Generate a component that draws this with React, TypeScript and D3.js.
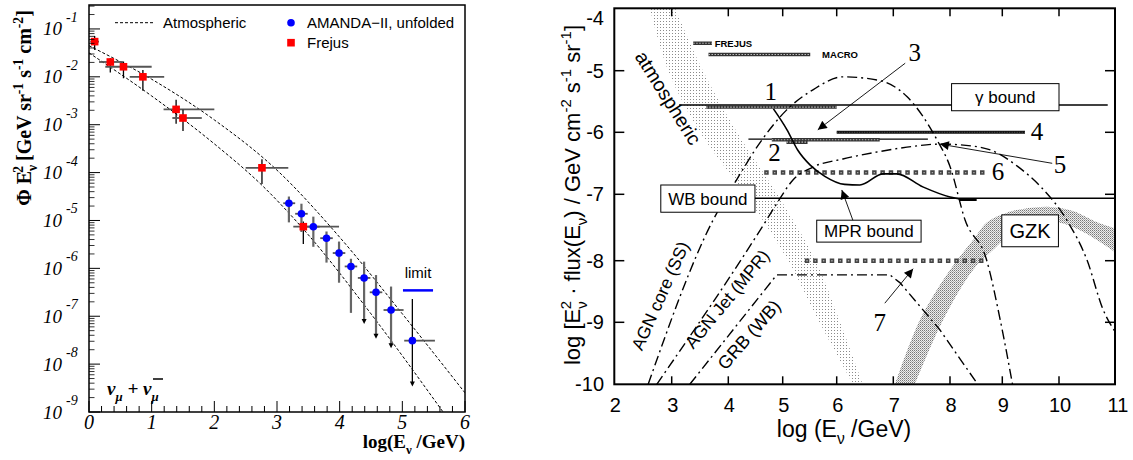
import React from 'react';
import * as d3 from 'd3';

// ================= LEFT PANEL DATA (log10 values) =================
const frejusLogE = [0.09, 0.34, 0.55, 0.86, 1.39, 1.5, 2.76, 3.42];
const frejusLogF = [-1.265, -1.69, -1.79, -2.0, -2.68, -2.86, -3.9, -5.13];
const frejusELo = [0.02, 0.16, 0.26, 0.65, 1.19, 1.33, 2.5, 3.26];
const frejusEHi = [0.16, 0.54, 1.0, 1.2, 2.0, 1.8, 3.18, 3.99];
const frejusFLo = [-1.438, -1.91, -2.03, -2.29, -2.98, -3.13, -4.24, -5.49];
const frejusFHi = [-1.146, -1.61, -1.68, -1.86, -2.48, -2.69, -3.72, -5.02];

const amandaLogE = [3.19, 3.39, 3.58, 3.79, 3.99, 4.18, 4.39, 4.58, 4.82, 5.16];
const amandaLogF = [-4.64, -4.86, -5.13, -5.37, -5.68, -5.96, -6.2, -6.5, -6.87, -7.51];
const amandaELo = [3.1, 3.29, 3.48, 3.69, 3.89, 4.08, 4.29, 4.48, 4.7, 5.03];
const amandaEHi = [3.29, 3.49, 3.68, 3.89, 4.09, 4.28, 4.49, 4.68, 5.02, 5.52];
const amandaFLo = [-5.04, -5.24, -5.55, -5.88, -6.3, -6.93, -7.16, -7.47, -7.67, -8.47];
const amandaFHi = [-4.5, -4.65, -4.92, -5.23, -5.44, -5.8, -5.86, -6.14, -6.38, -6.64];
const amandaIsLimit = [false, false, false, false, false, false, true, true, true, true];

const limitE = [5.01, 5.49];
const limitF = -6.46;

const atmUpperE = [0, 1, 2, 3, 4, 5, 6];
const atmUpperF = [-1.35, -2.05, -2.9, -3.95, -5.35, -6.95, -8.6];
const atmLowerE = [0, 1, 2, 2.78, 3.5, 4.5, 5.65];
const atmLowerF = [-1.5, -2.4, -3.4, -4.29, -5.3, -6.95, -9.0];

const leftXTicks = [0, 1, 2, 3, 4, 5, 6];
const leftYDecades = [-9, -8, -7, -6, -5, -4, -3, -2, -1];

// ================= RIGHT PANEL DATA =================
const rightXTicks = [2, 3, 4, 5, 6, 7, 8, 9, 10, 11];
const rightYTicks = [-10, -9, -8, -7, -6, -5, -4];

const atmBandY = [-4, -5, -6, -7, -8, -9, -10];
const atmBandLeftX = [2.62, 2.94, 3.5, 4.31, 5.1, 5.68, 6.29];
const atmBandRightX = [3.06, 3.55, 4.16, 4.9, 5.61, 6.06, 6.46];

const gzkTopX = [7.03, 7.47, 8.0, 8.44, 8.71, 9.07, 9.37, 9.84, 10.25, 10.68, 11.0];
const gzkTopY = [-10, -8.96, -8.15, -7.69, -7.42, -7.28, -7.22, -7.19, -7.25, -7.42, -7.51];
const gzkBotX = [7.38, 7.88, 8.44, 8.86, 9.17, 9.58, 10.02, 10.46, 11.0];
const gzkBotY = [-10, -8.96, -8.15, -7.81, -7.58, -7.43, -7.43, -7.58, -7.87];

const agnCoreX = [2.59, 3.73, 4.15, 4.58, 5.07, 5.56, 6.11, 6.71, 7.24, 7.77, 8.0, 8.29, 8.7, 8.96, 9.18];
const agnCoreY = [-10, -7.39, -6.77, -6.17, -5.64, -5.31, -5.1, -5.15, -5.42, -6.12, -6.55, -7.39, -7.99, -8.96, -10];

const agnJetX = [2.74, 4.7, 4.89, 5.19, 5.56, 6.11, 6.64, 7.24, 7.82, 8.41, 8.82, 9.27, 9.68, 10.14, 10.5, 10.79, 11.0];
const agnJetY = [-10, -7.39, -7.14, -6.77, -6.56, -6.43, -6.33, -6.24, -6.19, -6.22, -6.3, -6.55, -6.88, -7.39, -7.99, -8.8, -9.15];

const grbX = [3.32, 4.89, 6.94, 7.12, 7.82, 8.53];
const grbY = [-10, -8.23, -8.23, -8.36, -9.12, -10];

const limit3X = [4.83, 5.08, 5.28, 5.51, 5.78, 6.14, 6.41, 6.82, 7.06, 7.52, 8.0, 8.27];
const limit3Y = [-5.62, -5.96, -6.29, -6.53, -6.71, -6.84, -6.85, -6.67, -6.67, -6.88, -7.04, -7.08];

const gammaBoundY = -5.557;
const gammaBoundX = [3.13, 10.87];
const wbBoundY = -7.06;
const wbBoundX = [4.0, 11.0];

const frejusBarX = [3.38, 3.71];
const frejusBarY = -4.56;
const macroBarX = [3.65, 5.51];
const macroBarY = -4.74;
const bar1X = [3.61, 6.0];
const bar1Y = -5.59;
const line2X = [4.37, 7.61];
const line2Y = -6.11;
const bar2X = [4.8, 6.76];
const bar2Y = -6.12;
const bar2bX = [5.07, 5.46];
const bar2bY = -6.16;
const bar4X = [6.0, 9.4];
const bar4Y = -6.0;
const sq6X = [4.66, 8.67];
const sq6Y = -6.65;
const sq7X = [5.41, 8.64];
const sq7Y = -8.0;
const ehe3BarX = [8.18, 8.51];

const SANS = "'Liberation Sans', Arial, Helvetica, sans-serif";
const SERIF = "'Liberation Serif', 'Times New Roman', serif";

type Seg = { t: string; k?: 'sup' | 'sub'; dx?: number };
function rich(segs: Seg[], size: number) {
  let cur = 0;
  return segs.map((s, i) => {
    const target = s.k === 'sup' ? -0.42 * size : s.k === 'sub' ? 0.3 * size : 0;
    const dy = target - cur;
    cur = target;
    return (
      <tspan key={i} dy={dy} dx={s.dx ?? 0} fontSize={s.k ? size * 0.68 : size}>
        {s.t}
      </tspan>
    );
  });
}

function LeftPanel() {
  const lx = d3.scaleLinear().domain([0, 6]).range([89, 465]);
  const ly = d3.scaleLog().domain([1e-9, Math.pow(10, -0.5)]).range([412, 5]);
  const Y = (v: number) => ly(Math.pow(10, v));
  const line = d3
    .line<[number, number]>()
    .x((d) => lx(d[0]))
    .y((d) => Y(d[1]))
    .curve(d3.curveMonotoneX);
  const up = line(atmUpperE.map((e, i) => [e, atmUpperF[i]] as [number, number]))!;
  const lo = line(atmLowerE.map((e, i) => [e, atmLowerF[i]] as [number, number]))!;

  const minorX = d3.range(0, 6.001, 0.2).filter((v) => Math.abs(v - Math.round(v)) > 0.01);
  const minorY: number[] = [];
  leftYDecades.forEach((k) => {
    for (let m = 2; m <= 9; m++) {
      const v = m * Math.pow(10, k);
      if (v <= Math.pow(10, -0.5)) minorY.push(v);
    }
  });

  return (
    <g>
      <defs>
        <clipPath id="lclip">
          <rect x={89} y={5} width={376} height={407} />
        </clipPath>
      </defs>
      <g clipPath="url(#lclip)">
        <path d={up} fill="none" stroke="#000" strokeWidth={1} strokeDasharray="3,2" />
        <path d={lo} fill="none" stroke="#000" strokeWidth={1} strokeDasharray="3,2" />
      </g>
      {frejusLogE.map((e, i) => (
        <g key={'fe' + i}>
          <line x1={lx(frejusELo[i])} x2={lx(frejusEHi[i])} y1={Y(frejusLogF[i])} y2={Y(frejusLogF[i])} stroke="#555" strokeWidth={1.8} />
          <line x1={lx(e)} x2={lx(e)} y1={Y(frejusFLo[i])} y2={Y(frejusFHi[i])} stroke="#000" strokeWidth={1.3} />
        </g>
      ))}
      {amandaLogE.map((e, i) => (
        <g key={'ae' + i}>
          <line x1={lx(amandaELo[i])} x2={lx(amandaEHi[i])} y1={Y(amandaLogF[i])} y2={Y(amandaLogF[i])} stroke="#555" strokeWidth={1.8} />
          <line
            x1={lx(e)}
            x2={lx(e)}
            y1={Y(amandaFHi[i])}
            y2={Y(amandaFLo[i]) - (amandaIsLimit[i] ? 4 : 0)}
            stroke={i === amandaLogE.length - 1 ? '#000' : '#666'}
            strokeWidth={i === amandaLogE.length - 1 ? 1.3 : 2.2}
          />
          {amandaIsLimit[i] && (
            <path d={`M${lx(e) - 2.5},${Y(amandaFLo[i]) - 5} L${lx(e) + 2.5},${Y(amandaFLo[i]) - 5} L${lx(e)},${Y(amandaFLo[i])} z`} fill="#000" />
          )}
        </g>
      ))}
      {amandaLogE.map((e, i) => (
        <circle key={'am' + i} cx={lx(e)} cy={Y(amandaLogF[i])} r={3.8} fill="#0000ff" />
      ))}
      {frejusLogE.map((e, i) => (
        <rect key={'fm' + i} x={lx(e) - 3.8} y={Y(frejusLogF[i]) - 3.8} width={7.6} height={7.6} fill="#ff0000" />
      ))}
      <line x1={lx(limitE[0])} x2={lx(limitE[1])} y1={Y(limitF)} y2={Y(limitF)} stroke="#0000ff" strokeWidth={2.5} />
      <text x={lx((limitE[0] + limitE[1]) / 2)} y={Y(limitF) - 12} fontFamily={SANS} fontSize={15} textAnchor="middle">
        limit
      </text>

      <rect x={89} y={5} width={376} height={407} fill="none" stroke="#000" strokeWidth={1.5} />
      {leftXTicks.map((v) => (
        <line key={'xt' + v} x1={lx(v)} x2={lx(v)} y1={412} y2={401} stroke="#000" strokeWidth={1} />
      ))}
      {minorX.map((v) => (
        <line key={'xm' + v} x1={lx(v)} x2={lx(v)} y1={412} y2={406} stroke="#000" strokeWidth={1} />
      ))}
      {leftYDecades.map((k) => (
        <line key={'yt' + k} x1={89} x2={100} y1={Y(k)} y2={Y(k)} stroke="#000" strokeWidth={1} />
      ))}
      {minorY.map((v, i) => (
        <line key={'ym' + i} x1={89} x2={94.5} y1={ly(v)} y2={ly(v)} stroke="#000" strokeWidth={0.8} />
      ))}
      {leftXTicks.map((v) => (
        <text key={'xl' + v} x={lx(v)} y={429} fontFamily={SERIF} fontStyle="italic" fontSize={20} textAnchor="middle">
          {v}
        </text>
      ))}
      {leftYDecades.map((k) => (
        <g key={'yl' + k}>
          <text x={62} y={Y(k) + 6.5} fontFamily={SERIF} fontStyle="italic" fontSize={19} textAnchor="end">
            10
          </text>
          <text x={66} y={Y(k) - 7} fontFamily={SERIF} fontStyle="italic" fontSize={14}>
            {k}
          </text>
        </g>
      ))}
      <text x={465} y={448} fontFamily={SERIF} fontWeight="bold" fontSize={19} textAnchor="end" style={{ whiteSpace: 'pre' }}>
        {rich([{ t: 'log(E' }, { t: 'ν', k: 'sub' }, { t: ' /GeV)' }], 19)}
      </text>
      <text transform="translate(31,108) rotate(-90)" fontFamily={SERIF} fontWeight="bold" fontSize={20} textAnchor="middle" style={{ whiteSpace: 'pre' }}>
        {rich(
          [
            { t: 'Φ E' },
            { t: 'ν', k: 'sub' },
            { t: '2', k: 'sup', dx: -8 },
            { t: ' [GeV sr' },
            { t: '-1', k: 'sup' },
            { t: ' s' },
            { t: '-1', k: 'sup' },
            { t: ' cm' },
            { t: '-2', k: 'sup' },
            { t: ']' },
          ],
          20
        )}
      </text>
      <line x1={115} x2={153} y1={22.7} y2={22.7} stroke="#000" strokeWidth={1} strokeDasharray="3,2" />
      <text x={163} y={28} fontFamily={SANS} fontSize={15}>
        Atmospheric
      </text>
      <circle cx={291} cy={22.7} r={3.8} fill="#0000ff" />
      <text x={307} y={28} fontFamily={SANS} fontSize={15}>
        AMANDA−II, unfolded
      </text>
      <rect x={287.2} y={38.9} width={7.6} height={7.6} fill="#ff0000" />
      <text x={307} y={48} fontFamily={SANS} fontSize={15}>
        Frejus
      </text>
      <text x={107} y={395} fontFamily={SERIF} fontStyle="italic" fontWeight="bold" fontSize={19} style={{ whiteSpace: 'pre' }}>
        {rich([{ t: 'ν' }, { t: 'μ', k: 'sub' }, { t: ' + ν' }, { t: 'μ', k: 'sub' }], 19)}
      </text>
      <line x1={153} x2={163} y1={379} y2={379} stroke="#000" strokeWidth={1.5} />
    </g>
  );
}

function RightPanel() {
  const rx = d3.scaleLinear().domain(rightXTicks).range([614.3, 671.7, 728.3, 782.7, 836.7, 893.3, 950, 1002.3, 1059, 1115]);
  const ry = d3.scaleLinear().domain(rightYTicks).range([384.3, 322.3, 260.7, 194.3, 132.3, 70.7, 8.3]);
  const X0 = rx(2), X1 = rx(11), Y0 = ry(-4), Y1 = ry(-10);

  const lineMono = d3
    .line<[number, number]>()
    .x((d) => rx(d[0]))
    .y((d) => ry(d[1]))
    .curve(d3.curveMonotoneX);
  const lineCR = d3
    .line<[number, number]>()
    .x((d) => rx(d[0]))
    .y((d) => ry(d[1]))
    .curve(d3.curveCatmullRom);
  const lineLin = d3
    .line<[number, number]>()
    .x((d) => rx(d[0]))
    .y((d) => ry(d[1]));

  const zip = (xs: number[], ys: number[]) => xs.map((x, i) => [x, ys[i]] as [number, number]);

  const band = (a: [number, number][], b: [number, number][], gen: d3.Line<[number, number]>) => {
    const p1 = gen(a)!;
    const p2 = gen(b.slice().reverse())!;
    return p1 + 'L' + p2.slice(1) + 'Z';
  };
  const atmPath = band(zip(atmBandLeftX, atmBandY), zip(atmBandRightX, atmBandY), lineCR);
  const gzkPath = band(zip(gzkTopX, gzkTopY), zip(gzkBotX, gzkBotY), lineCR);

  const dashDot = '10,4,2,4';
  const hline = (xs: number[], y: number) => ({ x1: rx(xs[0]), x2: rx(xs[1]), y1: ry(y), y2: ry(y) });

  const arrow = (x1: number, y1: number, x2: number, y2: number, key: string) => (
    <line key={key} x1={rx(x1)} y1={ry(y1)} x2={rx(x2)} y2={ry(y2)} stroke="#000" strokeWidth={0.9} markerEnd="url(#rarr)" />
  );

  const box = (xa: number, xb: number, ya: number, yb: number, label: string, size: number, key: string) => {
    const x = rx(xa), w = rx(xb) - rx(xa), y = ry(ya), h = ry(yb) - ry(ya);
    return (
      <g key={key}>
        <rect x={x} y={y} width={w} height={h} fill="#fff" stroke="#000" strokeWidth={1} />
        <text x={x + w / 2} y={y + h / 2 + size * 0.36} fontFamily={SANS} fontSize={size} textAnchor="middle">
          {label}
        </text>
      </g>
    );
  };

  const num = (t: string, x: number, y: number) => (
    <text key={'n' + t} x={rx(x)} y={ry(y) + 8} fontFamily={SERIF} fontSize={25} textAnchor="middle">
      {t}
    </text>
  );

  const rotLabel = (t: string, x: number, y: number, ang: number, size: number) => (
    <text key={t} transform={`translate(${rx(x)},${ry(y)}) rotate(${ang})`} fontFamily={SANS} fontSize={size} textAnchor="middle" dy={size * 0.35}>
      {t}
    </text>
  );

  return (
    <g>
      <defs>
        <clipPath id="rclip">
          <rect x={X0} y={Y0} width={X1 - X0} height={Y1 - Y0} />
        </clipPath>
        <pattern id="atmPat" width={3} height={3} patternUnits="userSpaceOnUse">
          <rect x={0} y={0} width={1} height={1} fill="#8a8a8a" />
        </pattern>
        <pattern id="gzkPat" width={2} height={2} patternUnits="userSpaceOnUse">
          <rect x={0} y={0} width={2} height={2} fill="#eeeeee" />
          <rect x={0} y={0} width={1} height={1} fill="#777" />
          <rect x={1} y={1} width={1} height={1} fill="#aaa" />
        </pattern>
        <marker id="rarr" viewBox="0 0 10 10" refX={10} refY={5} markerWidth={11} markerHeight={9} orient="auto" markerUnits="userSpaceOnUse">
          <path d="M0,0 L10,5 L0,10 z" fill="#000" />
        </marker>
      </defs>

      <g clipPath="url(#rclip)">
        <path d={atmPath} fill="url(#atmPat)" stroke="none" />
        <path d={gzkPath} fill="url(#gzkPat)" stroke="none" />

        <line {...hline(gammaBoundX, gammaBoundY)} stroke="#000" strokeWidth={1.3} />
        <line {...hline(wbBoundX, wbBoundY)} stroke="#000" strokeWidth={1.5} />
        <line {...hline(line2X, line2Y)} stroke="#000" strokeWidth={1.2} />

        {[
          [frejusBarX, frejusBarY],
          [macroBarX, macroBarY],
          [bar1X, bar1Y],
          [bar2X, bar2Y],
          [bar2bX, bar2bY],
        ].map(([xs, y], i) => (
          <g key={'hb' + i}>
            <line {...hline(xs as number[], y as number)} stroke="#333" strokeWidth={3.6} />
            <line {...hline(xs as number[], y as number)} stroke="#bbb" strokeWidth={1.2} strokeDasharray="1.5,1.5" />
          </g>
        ))}
        <line {...hline(bar4X, bar4Y)} stroke="#111" strokeWidth={3} />
        <line {...hline(bar4X, bar4Y)} stroke="#666" strokeWidth={0.8} strokeDasharray="1,1.5" />

        {[
          [sq6X, sq6Y],
          [sq7X, sq7Y],
        ].map(([xs, y], i) => (
          <g key={'sq' + i}>
            <line {...hline(xs as number[], y as number)} stroke="#444" strokeWidth={4.5} strokeDasharray="4.5,3.8" />
            <line {...hline(xs as number[], y as number)} stroke="#aaa" strokeWidth={1.4} strokeDasharray="1.4,6.9" strokeDashoffset={-1.5} />
          </g>
        ))}

        <path d={lineMono(zip(agnCoreX, agnCoreY))!} fill="none" stroke="#000" strokeWidth={1.4} strokeDasharray={dashDot} />
        <path d={lineMono(zip(agnJetX, agnJetY))!} fill="none" stroke="#000" strokeWidth={1.4} strokeDasharray={dashDot} />
        <path d={lineLin(zip(grbX, grbY))!} fill="none" stroke="#000" strokeWidth={1.4} strokeDasharray={dashDot} />
        <path d={lineMono(zip(limit3X, limit3Y))!} fill="none" stroke="#000" strokeWidth={1.6} />
        <line {...hline(ehe3BarX, wbBoundY - 0.02)} stroke="#000" strokeWidth={3} />

        {arrow(7.21, -4.88, 5.65, -5.96, 'a3')}
        {arrow(9.88, -6.5, 7.82, -6.19, 'a5')}
        {arrow(6.85, -8.69, 7.35, -8.13, 'a7')}
        {arrow(6.29, -7.4, 6.09, -6.93, 'am')}

        {box(2.81, 4.49, -6.85, -7.27, 'WB bound', 17, 'bwb')}
        {box(8.03, 10.0, -5.21, -5.65, 'γ bound', 17, 'bgam')}
        {box(5.63, 7.49, -7.39, -7.72, 'MPR bound', 17, 'bmpr')}
        {box(8.99, 9.99, -7.31, -7.79, 'GZK', 20, 'bgzk')}

        <text x={rx(3.76)} y={ry(frejusBarY) + 3.5} fontFamily={SANS} fontWeight="bold" fontSize={9.5}>
          FREJUS
        </text>
        <text x={rx(5.73)} y={ry(macroBarY) + 3.5} fontFamily={SANS} fontWeight="bold" fontSize={9.5}>
          MACRO
        </text>

        {num('1', 4.78, -5.35)}
        {num('2', 4.85, -6.34)}
        {num('3', 7.38, -4.72)}
        {num('4', 9.61, -6.0)}
        {num('5', 10.02, -6.53)}
        {num('6', 8.92, -6.64)}
        {num('7', 6.76, -9.01)}

        {rotLabel('atmospheric', 2.94, -5.44, 58, 19.5)}
        {rotLabel('AGN core (SS)', 2.8, -8.57, -66, 17.5)}
        {rotLabel('AGN Jet (MPR)', 3.98, -8.62, -50.5, 17.5)}
        {rotLabel('GRB (WB)', 4.38, -9.2, -49, 18)}
      </g>

      <rect x={X0} y={Y0} width={X1 - X0} height={Y1 - Y0} fill="none" stroke="#000" strokeWidth={2} />
      {rightXTicks.slice(1, -1).map((v) => (
        <g key={'rxt' + v}>
          <line x1={rx(v)} x2={rx(v)} y1={Y1} y2={Y1 - 8} stroke="#000" strokeWidth={1.5} />
          <line x1={rx(v)} x2={rx(v)} y1={Y0} y2={Y0 + 8} stroke="#000" strokeWidth={1.5} />
        </g>
      ))}
      {rightYTicks.slice(1, -1).map((v) => (
        <g key={'ryt' + v}>
          <line x1={X0} x2={X0 + 10} y1={ry(v)} y2={ry(v)} stroke="#000" strokeWidth={1.5} />
          <line x1={X1} x2={X1 - 10} y1={ry(v)} y2={ry(v)} stroke="#000" strokeWidth={1.5} />
        </g>
      ))}
      {rightXTicks.map((v) => (
        <text key={'rxl' + v} x={rx(v) + (v === 11 ? 3 : 1)} y={412} fontFamily={SANS} fontSize={20} textAnchor="middle">
          {v}
        </text>
      ))}
      {rightYTicks.map((v) => (
        <text key={'ryl' + v} x={604} y={(v === -4 ? 18 : ry(v)) + 7} fontFamily={SANS} fontSize={20} textAnchor="end">
          {v}
        </text>
      ))}
      <text x={844} y={437} fontFamily={SANS} fontSize={23} textAnchor="middle" style={{ whiteSpace: 'pre' }}>
        {rich([{ t: 'log (E' }, { t: 'ν', k: 'sub' }, { t: ' /GeV)' }], 23)}
      </text>
      <text transform="translate(580,195) rotate(-90)" fontFamily={SANS} fontSize={22} textAnchor="middle" style={{ whiteSpace: 'pre' }}>
        {rich(
          [
            { t: 'log [E' },
            { t: 'ν', k: 'sub' },
            { t: '2', k: 'sup', dx: -8 },
            { t: ' · flux(E' },
            { t: 'ν', k: 'sub' },
            { t: ') / GeV cm' },
            { t: '-2', k: 'sup' },
            { t: ' s' },
            { t: '-1', k: 'sup' },
            { t: ' sr' },
            { t: '-1', k: 'sup' },
            { t: ']' },
          ],
          22
        )}
      </text>
    </g>
  );
}

export default function App() {
  return (
    <svg width={1133} height={460} style={{ position: 'absolute', left: 0, top: 0, background: '#fff' }}>
      <rect x={0} y={0} width={1133} height={460} fill="#fff" />
      <LeftPanel />
      <RightPanel />
    </svg>
  );
}
